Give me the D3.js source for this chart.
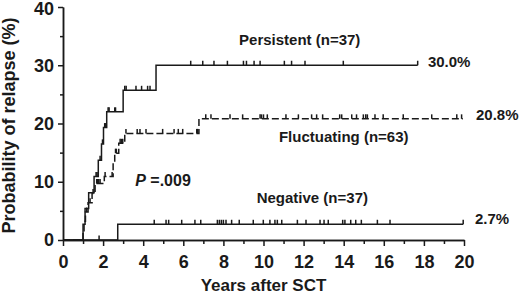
<!DOCTYPE html>
<html>
<head>
<meta charset="utf-8">
<script src="https://cdn.jsdelivr.net/npm/d3@7"></script>
<style>
  body { margin: 0; background: #fff; }
  svg { display: block; font-family: "Liberation Sans", Arial, sans-serif; font-weight: bold; }
</style>
</head>
<body>
<div id="chart"></div>
<script>
// Cumulative relapse steps: [years, percent]
const persistentSteps = [[1.0, 2.7], [1.1, 5.4], [1.28, 8.1], [1.55, 10.9], [1.76, 13.7],
  [1.92, 16.5], [2.02, 19.3], [2.18, 22.0], [3.0, 25.7], [4.64, 30.0]];
const persistentCensored = [1.65, 1.7, 1.85, 1.97, 2.08, 2.11, 2.25, 2.3, 2.58, 2.62,
  3.08, 3.15, 3.64, 3.92, 4.22, 4.34, 6.37, 6.97, 7.53, 8.2, 9.0, 9.15, 9.53, 9.83,
  11.04, 11.4, 12.07, 13.98, 17.69];
const persistentEnd = 17.69;

const fluctuatingSteps = [[1.0, 1.6], [1.05, 3.2], [1.12, 4.8], [1.25, 6.4], [1.45, 8.0],
  [1.6, 9.7], [2.06, 10.9], [2.5, 13.2], [2.58, 14.9], [2.78, 16.6], [3.08, 18.3], [6.78, 20.8]];
const fluctuatingCensored = [1.18, 1.35, 1.5, 1.68, 1.72, 1.78, 1.85, 2.1, 2.45, 2.62, 2.66,
  2.85, 2.92, 2.98, 3.14, 3.7, 3.84, 4.14, 4.97, 5.54, 5.75, 5.97, 6.67, 6.72,
  7.12, 7.38, 8.33, 8.96, 9.83, 9.9, 10.0, 10.19, 11.12, 11.74, 12.4, 12.65, 12.95,
  13.8, 13.9, 14.4, 14.64, 14.98, 15.1, 15.18, 15.56, 15.97, 16.97, 18.39, 19.64, 19.88];
const fluctuatingEnd = 19.94;

const negativeSteps = [[2.73, 2.7]];
const negativeCensored = [1.8, 4.55, 5.14, 5.27, 5.92, 6.58, 6.87, 7.7, 7.8, 7.9, 8.0, 8.13,
  8.41, 8.79, 9.49, 9.99, 10.32, 10.57, 10.69, 10.91, 11.69, 12.12, 12.82, 13.02, 13.23,
  13.95, 14.06, 14.35, 14.6, 14.88, 15.68, 16.31, 19.96];
const negativeEnd = 19.96;

const xTicks = [0, 2, 4, 6, 8, 10, 12, 14, 16, 18, 20];
const xMinorTicks = [1, 3, 5, 7, 9, 11, 13, 15, 17, 19];
const yTicks = [0, 10, 20, 30, 40];
const yMinorTicks = [5, 15, 25, 35];

const width = 520, height = 295;
const margin = { top: 7, right: 56, bottom: 55, left: 63 };

const svg = d3.select("#chart").append("svg")
  .attr("width", width)
  .attr("height", height);

const x = d3.scaleLinear().domain([0, 20]).range([margin.left, width - margin.right]);
const y = d3.scaleLinear().domain([0, 40]).range([height - margin.bottom, margin.top]);

const ink = "#1a1a1a";

// axes
const yAxis = svg.append("g")
  .attr("transform", `translate(${margin.left},0)`)
  .call(d3.axisLeft(y).tickValues(yTicks).tickSize(5).tickPadding(4).tickSizeOuter(0));
svg.append("g")
  .attr("transform", `translate(${margin.left},0)`)
  .call(d3.axisLeft(y).tickValues(yMinorTicks).tickSize(3).tickFormat("").tickSizeOuter(0));

svg.append("g")
  .attr("transform", `translate(0,${y(0)})`)
  .call(d3.axisBottom(x).tickValues(xTicks).tickSize(6).tickPadding(9).tickSizeOuter(0));
svg.append("g")
  .attr("transform", `translate(0,${y(0)})`)
  .call(d3.axisBottom(x).tickValues(xMinorTicks).tickSize(4).tickFormat("").tickSizeOuter(0));

svg.selectAll(".domain, .tick line").attr("stroke", ink).attr("stroke-width", 1.5);
svg.selectAll(".tick text")
  .attr("fill", ink)
  .style("font-size", "18px")
  .style("font-family", "'Liberation Sans', Arial, sans-serif")
  .style("font-weight", "bold");
// keep the top label inside the frame
yAxis.selectAll(".tick text").filter(d => d === 40).attr("dy", "0.42em");

// axis titles
svg.append("text")
  .attr("x", (x(0) + x(20)) / 2)
  .attr("y", 291)
  .attr("text-anchor", "middle")
  .attr("fill", ink)
  .style("font-size", "17px")
  .text("Years after SCT");

svg.append("text")
  .attr("transform", `translate(15,${(y(0) + y(40)) / 2 + 2}) rotate(-90)`)
  .attr("text-anchor", "middle")
  .attr("fill", ink)
  .style("font-size", "18px")
  .text("Probability of relapse (%)");

// curves
const line = d3.line()
  .x(d => x(d[0]))
  .y(d => y(d[1]))
  .curve(d3.curveStepAfter);

function levelAt(steps, t) {
  let p = 0;
  steps.forEach(s => { if (s[0] <= t) p = s[1]; });
  return p;
}

function drawCurve(steps, censored, end, dash) {
  const pts = [[0, 0]].concat(steps, [[end, steps[steps.length - 1][1]]]);
  svg.append("path")
    .datum(pts)
    .attr("fill", "none")
    .attr("stroke", ink)
    .attr("stroke-width", 1.5)
    .attr("stroke-dasharray", dash)
    .attr("d", line);

  // censor marks
  svg.append("g").selectAll("line")
    .data(censored)
    .enter()
    .append("line")
    .attr("x1", d => x(d))
    .attr("x2", d => x(d))
    .attr("y1", d => y(levelAt(steps, d)))
    .attr("y2", d => y(levelAt(steps, d)) - 4.5)
    .attr("stroke", ink)
    .attr("stroke-width", 1.5);
}

drawCurve(negativeSteps, negativeCensored, negativeEnd, null);
drawCurve(fluctuatingSteps, fluctuatingCensored, fluctuatingEnd, "7,3");
drawCurve(persistentSteps, persistentCensored, persistentEnd, null);

// labels
function label(t, p, txt) {
  svg.append("text")
    .attr("x", x(t))
    .attr("y", y(p))
    .attr("fill", ink)
    .style("font-size", "15px")
    .text(txt);
}
label(8.78, 33.5, "Persistent (n=37)");
label(18.2, 29.7, "30.0%");
label(10.77, 16.8, "Fluctuating (n=63)");
label(20.6, 20.6, "20.8%");
label(9.66, 6.35, "Negative (n=37)");
label(20.55, 2.75, "2.7%");

const pText = svg.append("text")
  .attr("x", x(3.6))
  .attr("y", y(9.3))
  .attr("fill", ink)
  .style("font-size", "16px");
pText.append("tspan").style("font-style", "italic").text("P");
pText.append("tspan").text(" =.009");
</script>
</body>
</html>
